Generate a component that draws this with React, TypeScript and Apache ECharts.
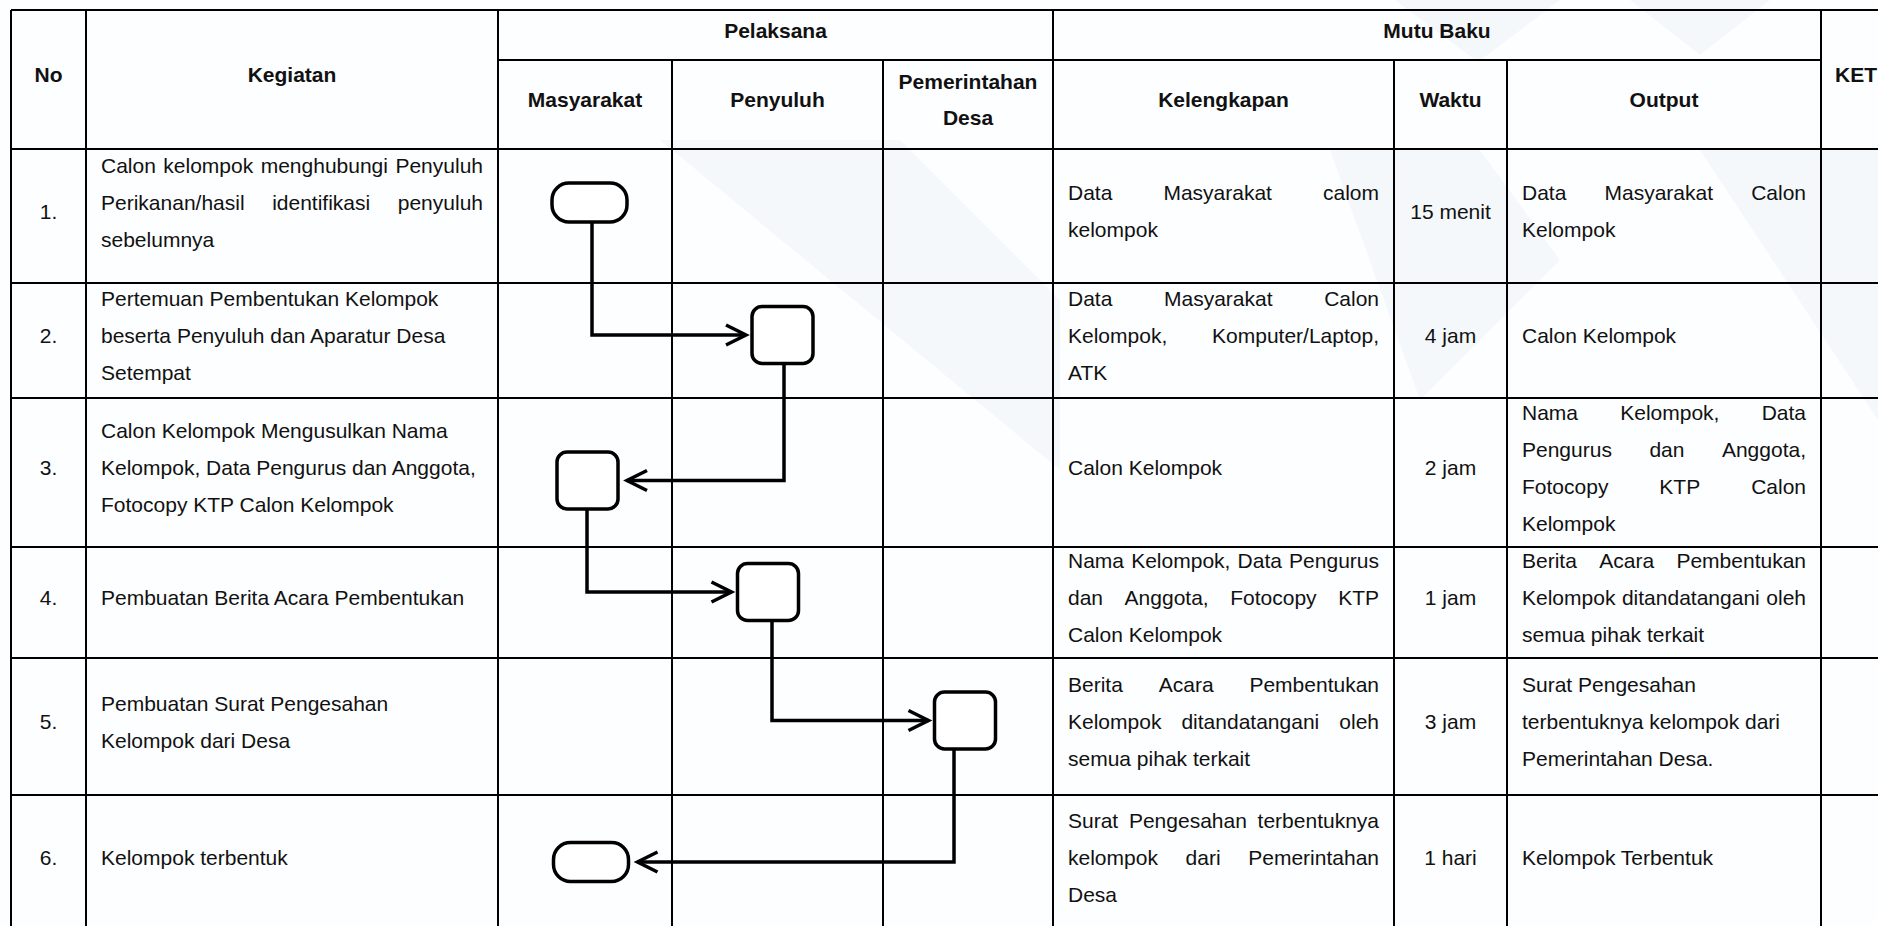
import React, { useEffect, useRef } from "react";
import * as echarts from "echarts";

// ---------- DATA ----------
const groupHeaders = ["Pelaksana", "Mutu Baku"];
const mainHeaders = ["No", "Kegiatan", "KET"];
const pelaksanaHeaders = ["Masyarakat", "Penyuluh", "Pemerintahan\nDesa"];
const mutuHeaders = ["Kelengkapan", "Waktu", "Output"];
const rowNumbers = ["1.", "2.", "3.", "4.", "5.", "6."];
const kegiatan = [
  ["Calon kelompok menghubungi Penyuluh", "Perikanan/hasil identifikasi penyuluh", "sebelumnya"],
  ["Pertemuan Pembentukan Kelompok", "beserta Penyuluh dan Aparatur Desa", "Setempat"],
  ["Calon Kelompok Mengusulkan Nama", "Kelompok, Data Pengurus dan Anggota,", "Fotocopy KTP Calon Kelompok"],
  ["Pembuatan Berita Acara Pembentukan"],
  ["Pembuatan Surat Pengesahan", "Kelompok dari Desa"],
  ["Kelompok terbentuk"],
];
const kelengkapan = [
  ["Data Masyarakat calom", "kelompok"],
  ["Data Masyarakat Calon", "Kelompok, Komputer/Laptop,", "ATK"],
  ["Calon Kelompok"],
  ["Nama Kelompok, Data Pengurus", "dan Anggota, Fotocopy KTP", "Calon Kelompok"],
  ["Berita Acara Pembentukan", "Kelompok ditandatangani oleh", "semua pihak terkait"],
  ["Surat Pengesahan terbentuknya", "kelompok dari Pemerintahan", "Desa"],
];
const waktu = ["15 menit", "4 jam", "2 jam", "1 jam", "3 jam", "1 hari"];
const output = [
  ["Data Masyarakat Calon", "Kelompok"],
  ["Calon Kelompok"],
  ["Nama Kelompok, Data", "Pengurus dan Anggota,", "Fotocopy KTP Calon", "Kelompok"],
  ["Berita Acara Pembentukan", "Kelompok ditandatangani oleh", "semua pihak terkait"],
  ["Surat Pengesahan", "terbentuknya kelompok dari", "Pemerintahan Desa."],
  ["Kelompok Terbentuk"],
];
// flow: lane per step (0 = Masyarakat, 1 = Penyuluh, 2 = Pemerintahan Desa)
const flowLane = [0, 1, 0, 1, 2, 0];
const flowShape = ["terminal", "process", "process", "process", "process", "terminal"];

// ---------- LAYOUT ----------
const W = 1878;
const H = 926;
const COLS = [11, 86, 498, 672, 883, 1053, 1394, 1507, 1821, 1897];
const TOP = 10;
const SUB = 60;
const HEAD_BOTTOM = 149;
const ROWS = [149, 283, 398, 547, 658, 795, 929];
const FONT = "'Liberation Sans', Arial, Helvetica, sans-serif";
const FS = 21;
const LH = 37;
const PAD = 15;
const TXT = "#111";
const kegiatanShift = [-9, 0, 0, 0, 0, 0];
const kegiatanRagged = [false, true, true, false, true, false];
const outputRagged = [false, false, false, false, true, false];
const nodeDx = [4.5, 5, 2.5, -9.5, -3, 6];
const nodeDy = [-13.5, -5.5, 8, -10.5, -6, 0];
const stubDx = [2.5, 1.5, -0.5, 4, -11];
const SIZE: Record<string, [number, number, number]> = {
  terminal: [75, 39, 17],
  process: [61, 57, 10],
};

let ctx: CanvasRenderingContext2D | null = null;
function measure(s: string, bold = false) {
  if (!ctx) ctx = document.createElement("canvas").getContext("2d");
  if (!ctx) return s.length * FS * 0.5;
  ctx.font = `${bold ? "bold " : ""}${FS}px ${FONT}`;
  return ctx.measureText(s).width;
}

function txt(text: string, x: number, y: number, align = "left", bold = false, z = 10) {
  return {
    type: "text",
    x,
    y,
    z,
    silent: true,
    style: {
      text,
      fill: TXT,
      fontSize: FS,
      fontFamily: FONT,
      fontWeight: bold ? "bold" : "normal",
      align,
      verticalAlign: "middle",
    },
  };
}

function lineEls(line: string, x0: number, x1: number, y: number, justify: boolean) {
  const words = line.split(" ");
  if (!justify || words.length < 2) return [txt(line, x0, y)];
  const widths = words.map((w) => measure(w));
  const total = widths.reduce((a, b) => a + b, 0);
  const gap = (x1 - x0 - total) / (words.length - 1);
  const space = measure(" ");
  if (gap <= space * 1.05) return [txt(line, x0, y)];
  const els: any[] = [];
  let x = x0;
  words.forEach((w, i) => {
    els.push(txt(w, x, y));
    x += widths[i] + gap;
  });
  return els;
}

function cell(lines: string[], c: number, r: number, ragged: boolean, shift = 0) {
  const x0 = COLS[c] + PAD;
  const x1 = COLS[c + 1] - PAD;
  const yc = (ROWS[r] + ROWS[r + 1]) / 2 - 5 + shift;
  const y0 = yc - ((lines.length - 1) * LH) / 2;
  const els: any[] = [];
  lines.forEach((ln, i) => {
    const last = i === lines.length - 1;
    els.push(...lineEls(ln, x0, x1, y0 + i * LH, !ragged && !last));
  });
  return els;
}

function seg(x1: number, y1: number, x2: number, y2: number, w: number, z: number) {
  return {
    type: "line",
    z,
    silent: true,
    shape: { x1, y1, x2, y2 },
    style: { stroke: "#000", lineWidth: w },
  };
}

function buildGraphics() {
  const g: any[] = [];
  // faint watermark shapes
  const wm = "#edf2f8";
  const wmShapes = [
    [[1395, 0], [1560, 0], [1478, 62]],
    [[1630, 0], [1770, 0], [1700, 55]],
    [[660, 140], [900, 140], [1060, 300], [1060, 470]],
    [[1330, 150], [1480, 150], [1560, 260], [1420, 400]],
    [[1700, 150], [1878, 150], [1878, 420]],
  ];
  wmShapes.forEach((pts) =>
    g.push({ type: "polygon", z: 0, silent: true, shape: { points: pts }, style: { fill: wm, opacity: 0.55 } })
  );

  // table grid
  const LW = 2;
  const bottom = ROWS[ROWS.length - 1];
  g.push(seg(COLS[0], TOP, COLS[9], TOP, LW, 5));
  g.push(seg(COLS[2], SUB, COLS[8], SUB, LW, 5));
  ROWS.forEach((y) => g.push(seg(COLS[0], y, COLS[9], y, LW, 5)));
  [0, 1, 2, 5, 8, 9].forEach((c) => g.push(seg(COLS[c], TOP, COLS[c], bottom, LW, 5)));
  [3, 4, 6, 7].forEach((c) => g.push(seg(COLS[c], SUB, COLS[c], bottom, LW, 5)));

  // headers
  const hMid = (TOP + HEAD_BOTTOM) / 2 - 5;
  const subMid = (SUB + HEAD_BOTTOM) / 2 - 5;
  const grpMid = (TOP + SUB) / 2 - 5;
  g.push(txt(mainHeaders[0], (COLS[0] + COLS[1]) / 2, hMid, "center", true));
  g.push(txt(mainHeaders[1], (COLS[1] + COLS[2]) / 2, hMid, "center", true));
  g.push(txt(mainHeaders[2], COLS[8] + 14, hMid, "left", true));
  g.push(txt(groupHeaders[0], (COLS[2] + COLS[5]) / 2, grpMid, "center", true));
  g.push(txt(groupHeaders[1], (COLS[5] + COLS[8]) / 2, grpMid, "center", true));
  pelaksanaHeaders.forEach((h, i) => {
    const parts = h.split("\n");
    parts.forEach((p, k) =>
      g.push(txt(p, (COLS[2 + i] + COLS[3 + i]) / 2, subMid - ((parts.length - 1) * 36) / 2 + k * 36, "center", true))
    );
  });
  mutuHeaders.forEach((h, i) => g.push(txt(h, (COLS[5 + i] + COLS[6 + i]) / 2, subMid, "center", true)));

  // body
  for (let r = 0; r < 6; r++) {
    const mid = (ROWS[r] + ROWS[r + 1]) / 2 - 5;
    g.push(txt(rowNumbers[r], (COLS[0] + COLS[1]) / 2, mid, "center"));
    g.push(...cell(kegiatan[r], 1, r, kegiatanRagged[r], kegiatanShift[r]));
    g.push(...cell(kelengkapan[r], 5, r, false));
    g.push(txt(waktu[r], (COLS[6] + COLS[7]) / 2, mid, "center"));
    g.push(...cell(output[r], 7, r, outputRagged[r]));
  }

  // flowchart
  const FW = 3.5;
  const nodes = flowLane.map((lane, i) => {
    const cx = (COLS[2 + lane] + COLS[3 + lane]) / 2 + nodeDx[i];
    const cy = (ROWS[i] + ROWS[i + 1]) / 2 + nodeDy[i];
    const [w, h, rad] = SIZE[flowShape[i]];
    return { cx, cy, w, h, rad };
  });
  nodes.forEach((n) =>
    g.push({
      type: "rect",
      z: 20,
      silent: true,
      shape: { x: n.cx - n.w / 2, y: n.cy - n.h / 2, width: n.w, height: n.h, r: n.rad },
      style: { fill: "#fff", stroke: "#000", lineWidth: FW },
    })
  );
  for (let i = 0; i < nodes.length - 1; i++) {
    const a = nodes[i];
    const b = nodes[i + 1];
    const x = a.cx + stubDx[i];
    const yTop = a.cy + a.h / 2;
    const dir = b.cx > x ? 1 : -1;
    const tip = dir > 0 ? b.cx - b.w / 2 - 6 : b.cx + b.w / 2 + 9;
    g.push({
      type: "polyline",
      z: 19,
      silent: true,
      shape: { points: [[x, yTop], [x, b.cy], [tip, b.cy]] },
      style: { stroke: "#000", lineWidth: FW, fill: null, lineJoin: "miter" },
    });
    g.push({
      type: "polyline",
      z: 19,
      silent: true,
      shape: { points: [[tip - 20 * dir, b.cy - 10], [tip, b.cy], [tip - 20 * dir, b.cy + 10]] },
      style: { stroke: "#000", lineWidth: FW, fill: null, lineJoin: "miter" },
    });
  }
  return g;
}

export default function App() {
  const ref = useRef<HTMLDivElement>(null);
  useEffect(() => {
    document.body.style.margin = "0";
    if (!ref.current) return;
    const chart = echarts.init(ref.current, undefined, { renderer: "svg" });
    chart.setOption({
      animation: false,
      backgroundColor: "#fdfeff",
      graphic: { elements: buildGraphics() },
    });
    return () => chart.dispose();
  }, []);
  return <div ref={ref} style={{ width: W, height: H }} />;
}
